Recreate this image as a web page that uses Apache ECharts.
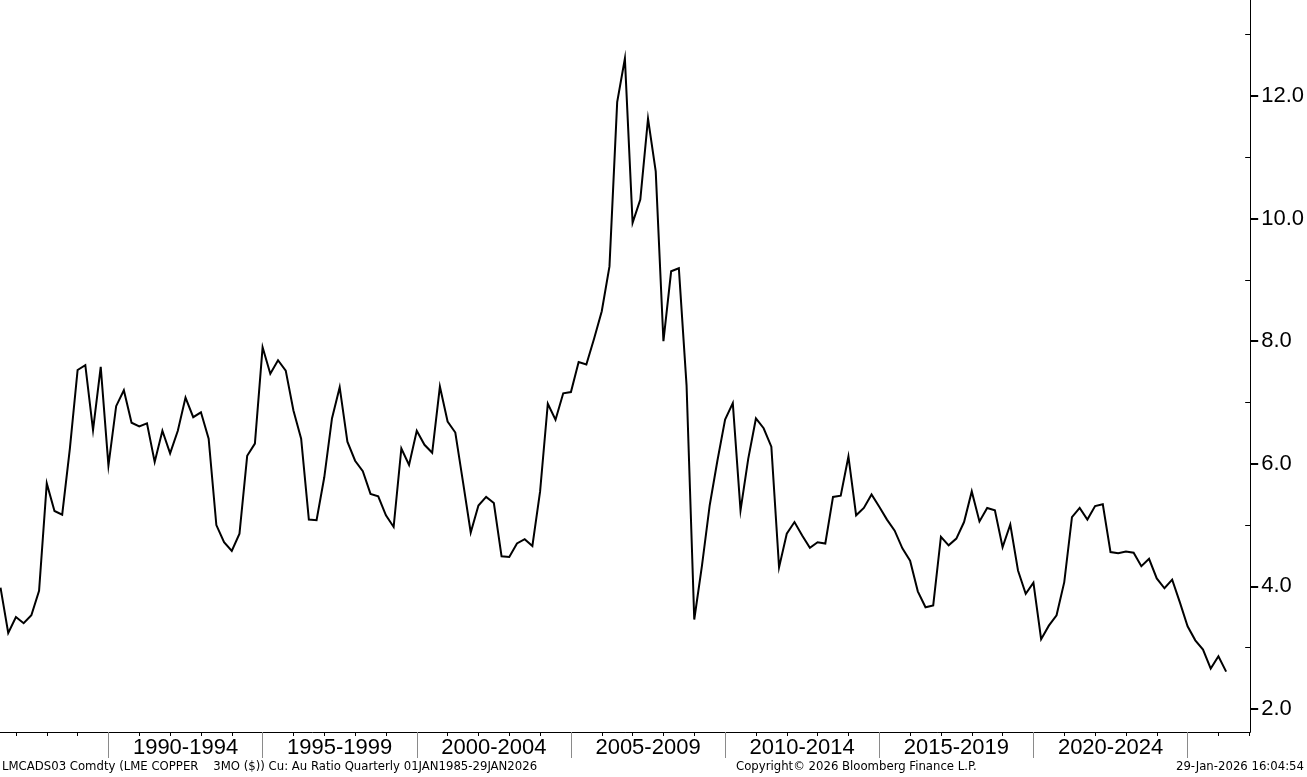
<!DOCTYPE html>
<html>
<head>
<meta charset="utf-8">
<script src="https://cdn.jsdelivr.net/npm/echarts@6/dist/echarts.min.js"></script>
<style>
html,body{margin:0;padding:0;background:#fff;}
#chart{width:1307px;height:777px;}
</style>
</head>
<body>
<div id="chart"></div>
<script>
// Quarterly Cu:Au ratio, visible part starting 1986 Q2 (quarter-end dates)
const firstYear = 1986;
const firstQuarter = 2;
const ratioValues = [
  3.98, 3.24, 3.50, 3.40, 3.53, 3.93, 5.68, 5.23, 5.17, 6.25,
  7.53, 7.61, 6.55, 7.58, 5.97, 6.94, 7.20, 6.67, 6.61, 6.66,
  6.03, 6.54, 6.17, 6.54, 7.08, 6.76, 6.84, 6.41, 5.00, 4.72,
  4.58, 4.86, 6.13, 6.33, 7.90, 7.47, 7.69, 7.52, 6.87, 6.41,
  5.09, 5.08, 5.78, 6.74, 7.25, 6.36, 6.05, 5.88, 5.51, 5.47,
  5.16, 4.97, 6.25, 5.98, 6.54, 6.31, 6.18, 7.26, 6.69, 6.51,
  5.70, 4.88, 5.32, 5.46, 5.36, 4.49, 4.48, 4.70, 4.77, 4.66,
  5.55, 6.98, 6.72, 7.15, 7.17, 7.66, 7.62, 8.04, 8.49, 9.22,
  11.90, 12.61, 9.93, 10.31, 11.63, 10.77, 8.00, 9.14, 9.19, 7.28,
  3.46, 4.34, 5.32, 6.05, 6.72, 6.99, 5.24, 6.08, 6.74, 6.58,
  6.28, 4.31, 4.86, 5.05, 4.83, 4.63, 4.72, 4.70, 5.46, 5.48,
  6.12, 5.16, 5.28, 5.50, 5.30, 5.09, 4.91, 4.62, 4.42, 3.92,
  3.66, 3.69, 4.81, 4.67, 4.78, 5.05, 5.55, 5.06, 5.28, 5.24,
  4.64, 5.01, 4.26, 3.88, 4.06, 3.14, 3.36, 3.53, 4.07, 5.13,
  5.28, 5.09, 5.31, 5.34, 4.56, 4.54, 4.57, 4.55, 4.33, 4.45,
  4.13, 3.97, 4.11, 3.74, 3.35, 3.12, 2.97, 2.66, 2.86, 2.61
];
// quarter labels for each value
const quarterLabels = [];
for (let i = 0, y = firstYear, q = firstQuarter; i < ratioValues.length; i++) {
  quarterLabels.push(y + 'Q' + q);
  q++; if (q > 4) { q = 1; y++; }
}
const periodLabels = ['1990-1994','1995-1999','2000-2004','2005-2009','2010-2014','2015-2019','2020-2024'];
const periodStarts = [1990, 1995, 2000, 2005, 2010, 2015, 2020, 2025];
const yearTicks = [];
for (let y = 1987; y <= 2027; y++) yearTicks.push(y);
const yMajorTicks = [2, 4, 6, 8, 10, 12];
const yMinorTicks = [3, 5, 7, 9, 11, 13];
const footerLeft = 'LMCADS03 Comdty (LME COPPER    3MO ($)) Cu: Au Ratio Quarterly 01JAN1985-29JAN2026';
const footerMid = 'Copyright\u00A9 2026 Bloomberg Finance L.P.';
const footerRight = '29-Jan-2026 16:04:54';

// quarter label -> decimal year at quarter end
function qToX(lbl) {
  const y = +lbl.slice(0, 4), q = +lbl.slice(5);
  return y + q / 4;
}
const seriesData = ratioValues.map((v, i) => [qToX(quarterLabels[i]), v]);
const periodCenters = periodLabels.map(l => +l.slice(0, 4) + 2.5);

const X_MIN = 1986.483, X_MAX = 2027.03;
const Y_MIN = 1.625, Y_MAX = 13.566;
const FONT = '"Liberation Sans", Arial, sans-serif';
const FOOT_FONT = '13px "DejaVu Sans Condensed", sans-serif';

const chart = echarts.init(document.getElementById('chart'), null, {renderer: 'canvas'});
chart.setOption({
  animation: false,
  backgroundColor: '#ffffff',
  grid: {left: 0, right: 56, top: 0, bottom: 45, containLabel: false},
  xAxis: [
    {
      type: 'value', min: X_MIN, max: X_MAX, position: 'bottom',
      axisLine: {show: true, onZero: false, lineStyle: {color: '#000', width: 1}},
      axisTick: {show: true, customValues: yearTicks, length: 4, inside: false, lineStyle: {color: '#000', width: 1}},
      axisLabel: {
        show: true, customValues: periodCenters, margin: 5,
        fontFamily: FONT, fontSize: 22, color: '#000',
        formatter: v => periodLabels[periodCenters.indexOf(v)] || ''
      },
      splitLine: {show: false}
    },
    {
      type: 'value', min: X_MIN, max: X_MAX, position: 'bottom', offset: 0,
      axisLine: {show: false, onZero: false},
      axisTick: {show: true, customValues: periodStarts, length: 26, lineStyle: {color: '#8a8a8a', width: 1}},
      axisLabel: {show: false},
      splitLine: {show: false}
    }
  ],
  yAxis: [
    {
      type: 'value', min: Y_MIN, max: Y_MAX, position: 'right',
      axisLine: {show: true, onZero: false, lineStyle: {color: '#000', width: 1}},
      axisTick: {show: true, customValues: yMajorTicks, length: 8, lineStyle: {color: '#000', width: 2}},
      axisLabel: {
        show: true, customValues: yMajorTicks, margin: 11,
        fontFamily: FONT, fontSize: 22, color: '#000',
        formatter: v => v.toFixed(1)
      },
      splitLine: {show: false}
    },
    {
      type: 'value', min: Y_MIN, max: Y_MAX, position: 'right', offset: 0,
      axisLine: {show: false, onZero: false},
      axisTick: {show: true, customValues: yMinorTicks, length: 5, inside: true, lineStyle: {color: '#000', width: 1}},
      axisLabel: {show: false},
      splitLine: {show: false}
    }
  ],
  series: [{
    type: 'line',
    name: 'Cu: Au Ratio',
    xAxisIndex: 0, yAxisIndex: 0,
    data: seriesData,
    showSymbol: false,
    symbol: 'none',
    clip: true,
    lineStyle: {color: '#000000', width: 2, join: 'miter'}
  }],
  graphic: [
    {type: 'text', left: 2, top: 760, style: {text: footerLeft, font: FOOT_FONT, fill: '#000'}},
    {type: 'text', left: 736, top: 760, style: {text: footerMid, font: FOOT_FONT, fill: '#000'}},
    {type: 'text', right: 3, top: 760, style: {text: footerRight, font: FOOT_FONT, fill: '#000'}}
  ]
});
</script>
</body>
</html>
